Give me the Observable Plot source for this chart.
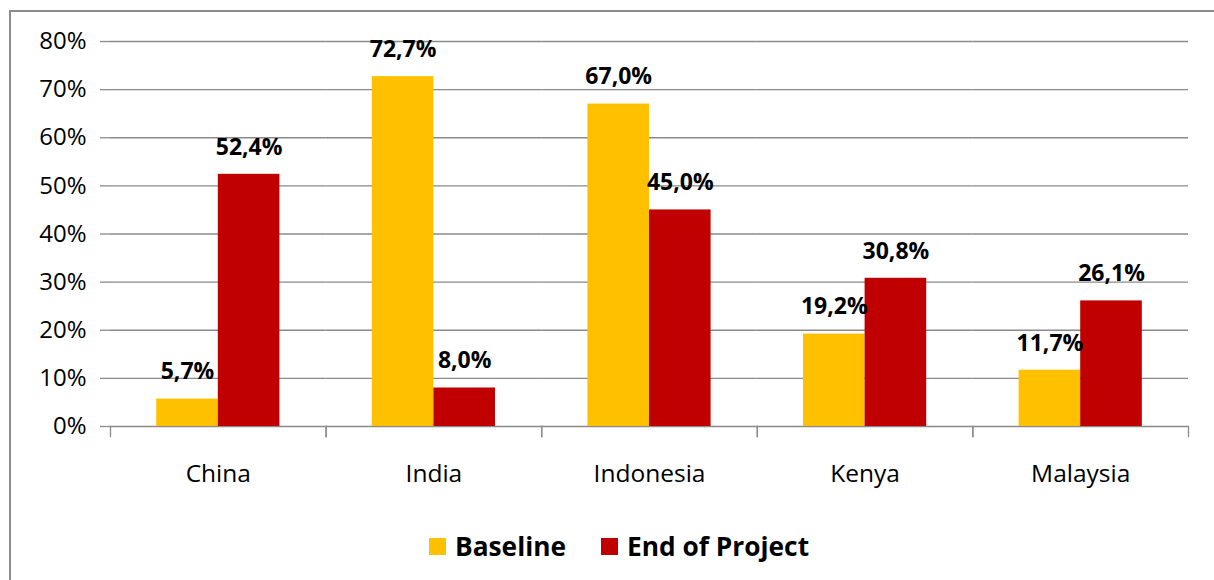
<!DOCTYPE html>
<html><head><meta charset="utf-8">
<script src="https://cdn.jsdelivr.net/npm/d3@7"></script>
<script src="https://cdn.jsdelivr.net/npm/@observablehq/plot@0.6"></script>
<style>
body{margin:0;background:#fff;width:1214px;height:580px;overflow:hidden;position:relative;font-family:"Open Sans",sans-serif;}
#frame{position:absolute;left:9px;top:10px;width:1300px;height:700px;border:2px solid #8c8c8c;}
#chart{position:absolute;left:0;top:0;}
#legend{position:absolute;left:429px;top:528px;}
#legend, #legend *{font-family:"Open Sans",sans-serif !important;font-size:26.3px !important;font-weight:bold !important;color:#000 !important;}
#legend > div{margin:0 !important;}
#legend [class$="-swatch"]{margin-right:35px !important;}
#legend [class$="-swatch"] > svg{margin-right:9px !important;}
</style></head><body>
<div id="frame"></div><div id="chart"></div><div id="legend"></div>
<script>
const countries = ["China", "India", "Indonesia", "Kenya", "Malaysia"];
const series = ["Baseline", "End of Project"];
const baseline = [5.7, 72.7, 67.0, 19.2, 11.7];
const endOfProject = [52.4, 8.0, 45.0, 30.8, 26.1];
const colors = ["#FFC000", "#C00000"];
const yTicks = [0, 10, 20, 30, 40, 50, 60, 70, 80];

const data = countries.flatMap((c, i) => [
  {country: c, series: series[0], value: baseline[i]},
  {country: c, series: series[1], value: endOfProject[i]}
]);
const fmt = v => v.toFixed(1).replace(".", ",") + "%";

const W = 1214, H = 500, mT = 41, mB = 74, mL = 110, mR = 26;
const grid = "#8a8a8a";
const chart = Plot.plot({
  width: W, height: H, marginTop: mT, marginBottom: mB, marginLeft: mL, marginRight: mR,
  style: {fontFamily: '"Open Sans",sans-serif', fontSize: "24px", color: "#000", background: "transparent", overflow: "visible"},
  fx: {domain: countries, padding: 0, round: false, label: null},
  x: {domain: series, paddingInner: 0, paddingOuter: 0.75, round: false, axis: null},
  y: {domain: [0, 80], ticks: yTicks, label: null},
  color: {domain: series, range: colors},
  marks: [
    Plot.gridY(yTicks, {stroke: grid, strokeOpacity: 1, strokeWidth: 1.3}),
    Plot.frame({anchor: "left", stroke: grid, strokeWidth: 1.3, insetTop: H - mT - mB, insetBottom: -10}),
    Plot.frame({anchor: "right", stroke: grid, strokeWidth: 1.3, insetTop: H - mT - mB, insetBottom: -10}),
    Plot.axisY(yTicks, {tickSize: 10, tickPadding: 14, tickFormat: d => d + "%", stroke: grid, strokeWidth: 1.3, fill: "#000", line: true, fontSize: 24, label: null}),
    Plot.axisFx({anchor: "bottom", tickSize: 0, tickPadding: 38, fontSize: 24.5, fill: "#000", label: null}),
    Plot.barY(data, {fx: "country", x: "series", y: "value", fill: "series"}),
    Plot.text(data, {fx: "country", x: "series", y: "value", text: d => fmt(d.value), dy: -27, fontWeight: "bold", fontSize: 23, fill: "#000"})
  ]
});
document.getElementById("chart").appendChild(chart);

const leg = Plot.legend({color: {domain: series, range: colors}, legend: "swatches", swatchSize: 17});
document.getElementById("legend").appendChild(leg);
</script>
</body></html>
